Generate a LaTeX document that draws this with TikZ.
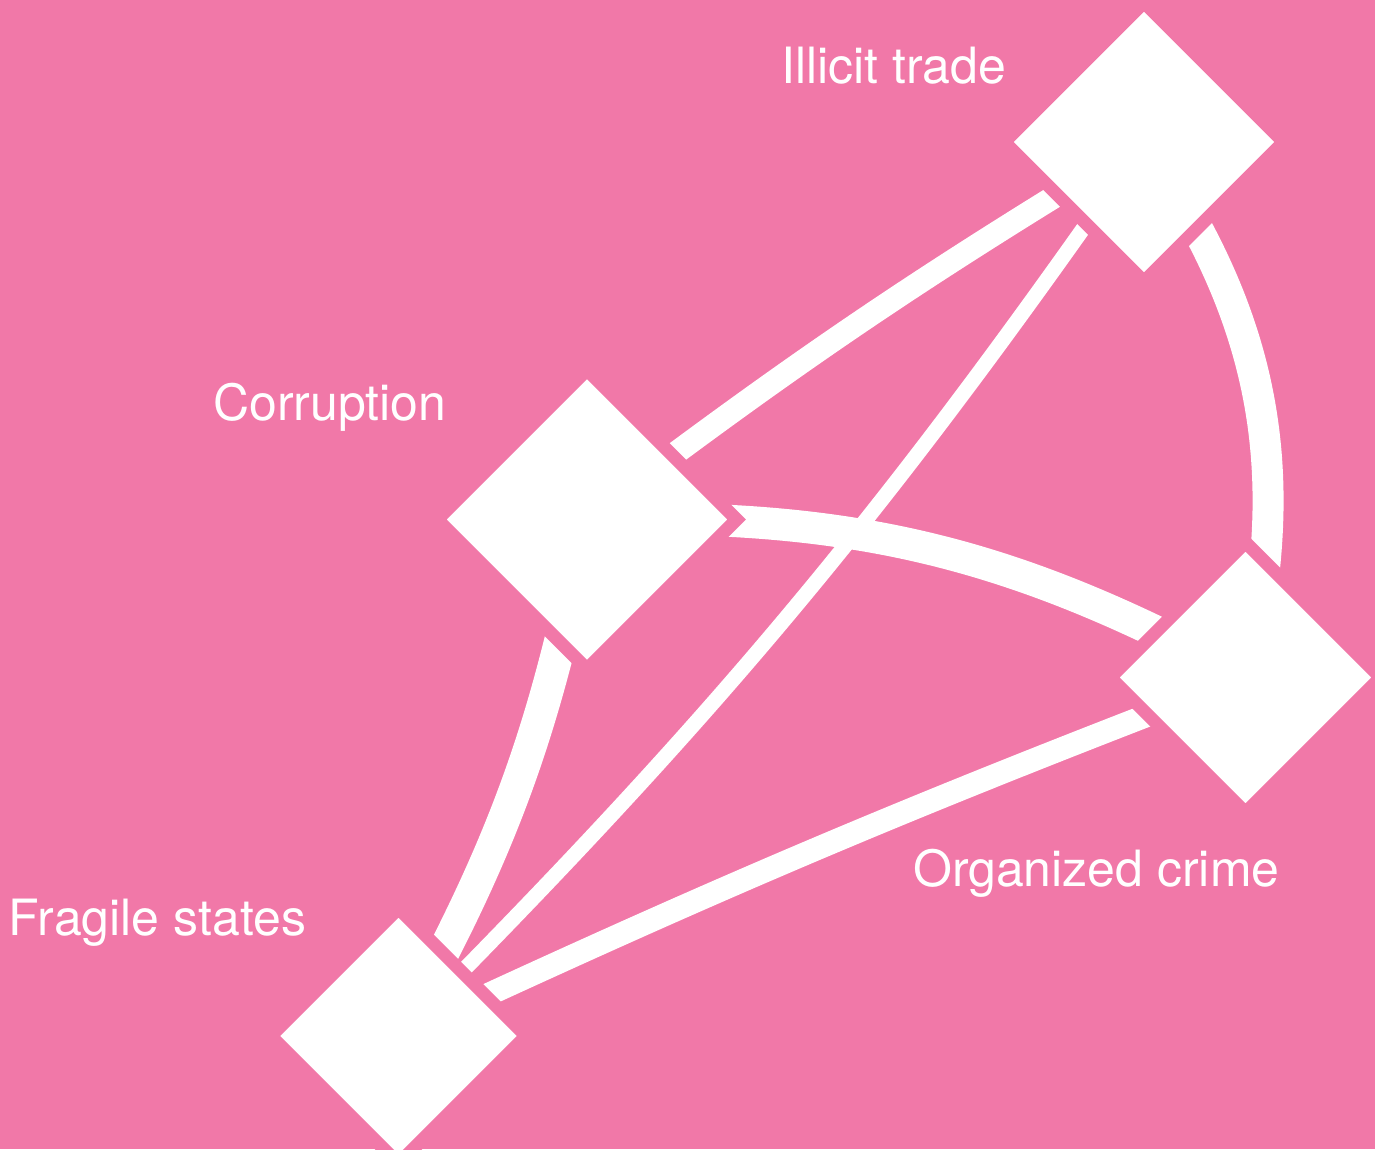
\documentclass[tikz,border=0pt]{standalone}
\usepackage{fontspec}
\setmainfont{TeX Gyre Heros}
\usetikzlibrary{shapes.geometric}
\definecolor{bg}{HTML}{F178A8}
\definecolor{ink}{HTML}{FFFFFF}
\pgfdeclarelayer{back}
\pgfsetlayers{back,main}
\tikzset{
  box/.style={diamond, fill=ink, draw=bg, line width=13pt, inner sep=0pt,
    minimum width=#1, minimum height=#1},
  band/.style={draw=ink, line width=#1},
  lab/.style={text=ink, font=\fontsize{50}{60}\selectfont, inner sep=0pt, anchor=base west},
}

\begin{document}
\begin{tikzpicture}[x=1pt,y=-1pt]
  \useasboundingbox (0,0) rectangle (1375,1149);
  % diamonds, the pink rim makes the gap to the bands
  \node[box=284.5] (trade) at (1144,142) {};
  \node[box=304.5] (corr) at (587,519.5) {};
  \node[box=275.5] (crime) at (1245.5,677.5) {};
  \node[box=260.5] (fragile) at (398.5,1036) {};
  \node[lab] (tradelab) at (781,83.3) {Illicit trade};
  \node[lab] (corrlab) at (213,420) {Corruption};
  \node[lab] (crimelab) at (913,886.7) {Organized crime};
  \node[lab] (fragilelab) at (8.7,935) {Fragile states};
  \begin{pgfonlayer}{back}
    \fill[bg] (0,0) rectangle (1375,1149);
    \foreach \a/\b/\w/\bend in {corr/trade/23/3, trade/fragile/15/5,
        trade/crime/31/24, corr/crime/32/15, corr/fragile/32.5/9,
        crime/fragile/23/-2}{
      \draw[band=\w pt] (\a.center) to[bend left=\bend] (\b.center);
    }
  \end{pgfonlayer}
\end{tikzpicture}
\end{document}
